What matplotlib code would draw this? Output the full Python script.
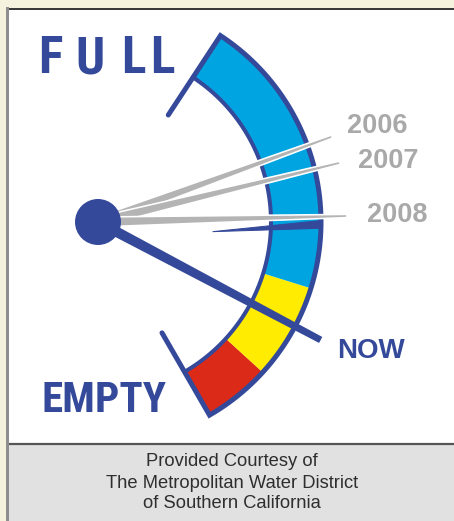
import numpy as np
import matplotlib
matplotlib.use("Agg")
import matplotlib.pyplot as plt
from matplotlib.patches import Polygon, Rectangle, Circle

# ---------------- data ----------------
years = ["2006", "2007", "2008"]
year_levels = [68.6, 63.2, 52.6]          # percent full
now_level = 27.5                          # percent full
zone_bounds = [0.0, 15.1, 36.6, 100.0]    # red / yellow / blue zones
zone_colors = ["#DC2A18", "#FFEC00", "#00A4E1"]
marker_level = 49.0                       # navy reference tick
footer_lines = ["Provided Courtesy of",
                "The Metropolitan Water District",
                "of Southern California"]

# ---------------- style ----------------
NAVY = "#35499A"
GRAY = "#B4B4B4"
YEAR_GRAY = "#A9A9A9"
W, H = 454, 521
CX, CY = 98.0, 222.0
A_EMPTY, A_FULL = -60.0, 56.7
R_OUT, R_IN, R_TAIL = 222.0, 174.0, 128.0
PX = 72.0 / 100.0  # px -> pt
COND = ["Roboto Condensed", "DejaVu Sans Condensed", "Liberation Sans Narrow",
        "Roboto", "DejaVu Sans"]


def ang(level):
    return A_EMPTY + (A_FULL - A_EMPTY) * level / 100.0


def pt(r, a):
    t = np.deg2rad(a)
    return CX + r * np.cos(t), CY - r * np.sin(t)


def arc(r, a0, a1, n=80):
    t = np.deg2rad(np.linspace(a0, a1, n))
    return np.column_stack([CX + r * np.cos(t), CY - r * np.sin(t)])


def needle(a, r0, r1, w0, w1):
    t = np.deg2rad(a)
    u = np.array([np.cos(t), -np.sin(t)])
    nrm = np.array([np.sin(t), np.cos(t)])
    c = np.array([CX, CY])
    p0 = c + u * r0
    p1 = c + u * r1
    return np.array([p0 + nrm * w0, p1 + nrm * w1, p1 - nrm * w1, p0 - nrm * w0])


fig = plt.figure(figsize=(W / 100, H / 100), dpi=100, facecolor="#F5F2DE")
ax = fig.add_axes([0, 0, 1, 1])
ax.set_xlim(0, W)
ax.set_ylim(H, 0)
ax.axis("off")

# panel frame
ax.add_patch(Rectangle((8, 8), W, 437, facecolor="white", edgecolor="none", zorder=0))
ax.add_patch(Rectangle((8, 444), W, 80, facecolor="#E1E1E1", edgecolor="none", zorder=0))
ax.plot([8, W], [443.5, 443.5], color="#555555", lw=2.2 * PX, zorder=1)
ax.plot([8, W], [8.5, 8.5], color="#3a3a3a", lw=2.0 * PX, zorder=1)
ax.plot([6.5, 6.5], [8, H], color="#8E8E8E", lw=3.0 * PX, zorder=1)

# colored zones of the band
for lo, hi, col in zip(zone_bounds[:-1], zone_bounds[1:], zone_colors):
    a0, a1 = ang(lo), ang(hi)
    poly = np.vstack([arc(R_OUT, a0, a1), arc(R_IN, a1, a0)])
    ax.add_patch(Polygon(poly, closed=True, facecolor=col, edgecolor="none", zorder=2))

# band outline
outer = np.vstack([[pt(R_TAIL, ang(100))], arc(R_OUT + 1, ang(100), ang(0)), [pt(R_TAIL, ang(0))]])
ax.plot(outer[:, 0], outer[:, 1], color=NAVY, lw=5 * PX, solid_joinstyle="miter",
        solid_capstyle="round", zorder=3)
inner = arc(R_IN - 1, ang(100), ang(0))
ax.plot(inner[:, 0], inner[:, 1], color=NAVY, lw=4 * PX, zorder=3)

# navy reference tick
am = ang(marker_level)
tick = np.array([pt(115, am - 2.0), pt(R_OUT + 1, am + 3.2), pt(R_OUT + 1, am + 1.2)])
ax.add_patch(Polygon(tick, closed=True, facecolor=NAVY, edgecolor=NAVY, lw=1 * PX, zorder=4))

# gray year needles
for lvl in year_levels:
    poly = needle(ang(lvl), 0, 249, 5.0, 1.6)
    ax.add_patch(Polygon(poly, closed=True, facecolor=GRAY, edgecolor="white",
                         lw=1.6 * PX, zorder=5))

# NOW needle
ax.add_patch(Polygon(needle(ang(now_level), 0, 252, 5.3, 3.4), closed=True,
                     facecolor=NAVY, edgecolor="none", zorder=6))
# hub
ax.add_patch(Circle((CX, CY), 23, facecolor=NAVY, edgecolor="none", zorder=7))

# labels
bold_narrow = dict(family=COND, fontweight="bold", fontstretch="condensed", color=NAVY)
for ch, x in zip("FULL", [38, 75, 121, 150]):
    ax.text(x, 73, ch, fontsize=37, ha="left", va="baseline", **bold_narrow)
ax.text(41, 412, "EMPTY", fontsize=31, ha="left", va="baseline", **bold_narrow)
ax.text(337, 358, "NOW", fontsize=20, ha="left", va="baseline",
        family=["Liberation Sans", "DejaVu Sans"], fontweight="bold", color=NAVY)

year_pos = [(347, 133), (358, 168), (367, 222)]
for yr, (x, y) in zip(years, year_pos):
    ax.text(x, y, yr, fontsize=19.5, ha="left", va="baseline",
            family=["Liberation Sans", "DejaVu Sans"], fontweight="bold", color=YEAR_GRAY)

for line, y in zip(footer_lines, [462, 483, 503]):
    ax.text(232, y, line, fontsize=13.2, ha="center", va="center",
            family=["Liberation Sans", "DejaVu Sans"], color="#2e2e2e")

fig.savefig("out.png", dpi=100, facecolor=fig.get_facecolor())
